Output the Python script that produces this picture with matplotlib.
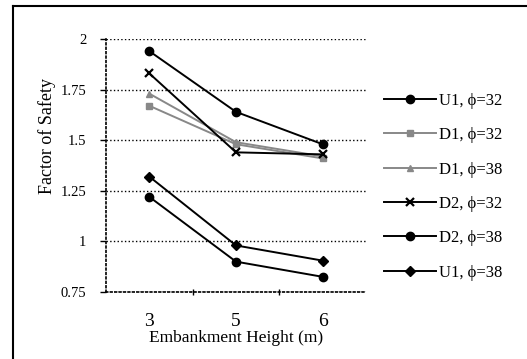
import matplotlib
matplotlib.use("Agg")
import matplotlib.pyplot as plt
from matplotlib.lines import Line2D

plt.rcParams['font.family'] = ['Liberation Serif', 'DejaVu Serif']

# data
heights = ['3', '5', '6']
u1_32 = [1.94, 1.64, 1.48]
d1_32 = [1.67, 1.48, 1.41]
d1_38 = [1.73, 1.49, 1.42]
d2_32 = [1.83, 1.44, 1.43]
d2_38 = [1.22, 0.90, 0.825]
u1_38 = [1.32, 0.98, 0.905]
labels = ['U1, ϕ=32', 'D1, ϕ=32', 'D1, ϕ=38', 'D2, ϕ=32', 'D2, ϕ=38', 'U1, ϕ=38']
yticks = [0.75, 1, 1.25, 1.5, 1.75, 2]
ytick_labels = ['0.75', '1', '1.25', '1.5', '1.75', '2']

fig = plt.figure(figsize=(5.27, 3.59), dpi=100)
ax = fig.add_axes([106/527, 1-292/359, 260/527, 253/359])

x = range(len(heights))
series = [u1_32, d1_32, d1_38, d2_32, d2_38, u1_38]
styles = [
    dict(color='black', marker='o', ms=6),
    dict(color='#888888', marker='s', ms=5),
    dict(color='#888888', marker='^', ms=5),
    dict(color='black', marker='x', ms=6, mew=1.6),
    dict(color='black', marker='o', ms=6),
    dict(color='black', marker='D', ms=5),
]
for vals, lab, st in zip(series, labels, styles):
    ax.plot(x, vals, label=lab, lw=1.4, **st)

ax.set_xlim(-0.5, 2.5)
ax.set_ylim(0.75, 2)
ax.set_xticks(list(x))
ax.set_xticklabels(heights, fontsize=14)
ax.set_xticks([0.5, 1.5], minor=True)
ax.tick_params(axis='x', which='major', length=0, pad=15)
ax.tick_params(axis='x', which='minor', length=4, direction='inout', width=1)
ax.set_yticks(yticks)
ax.set_yticklabels(ytick_labels, fontsize=10.5)
ax.tick_params(axis='y', length=4, direction='out', width=1, pad=10)

ax.yaxis.grid(True, ls=':', color='black', lw=1)
for s in ['top', 'right']:
    ax.spines[s].set_visible(False)
for s in ['left', 'bottom']:
    ax.spines[s].set_linestyle(':')
    ax.spines[s].set_linewidth(1.2)

ax.set_xlabel('Embankment Height (m)', fontsize=12.5, labelpad=0)
ax.set_ylabel('Factor of Safety', fontsize=13)
ax.yaxis.set_label_coords(-0.192, 0.617)

ax.legend(loc='upper left', bbox_to_anchor=(369/527, 1-78/359),
          bbox_transform=fig.transFigure, frameon=False, fontsize=12,
          handlelength=3.1, handletextpad=0.2, labelspacing=1.1)

# outer frame
fig.add_artist(Line2D([13/527, 13/527], [0, 1-6/359], color='black', lw=1.5,
                      transform=fig.transFigure))
fig.add_artist(Line2D([13/527, 1], [1-6/359, 1-6/359], color='black', lw=1.5,
                      transform=fig.transFigure))

fig.savefig('out.png', dpi=100)
